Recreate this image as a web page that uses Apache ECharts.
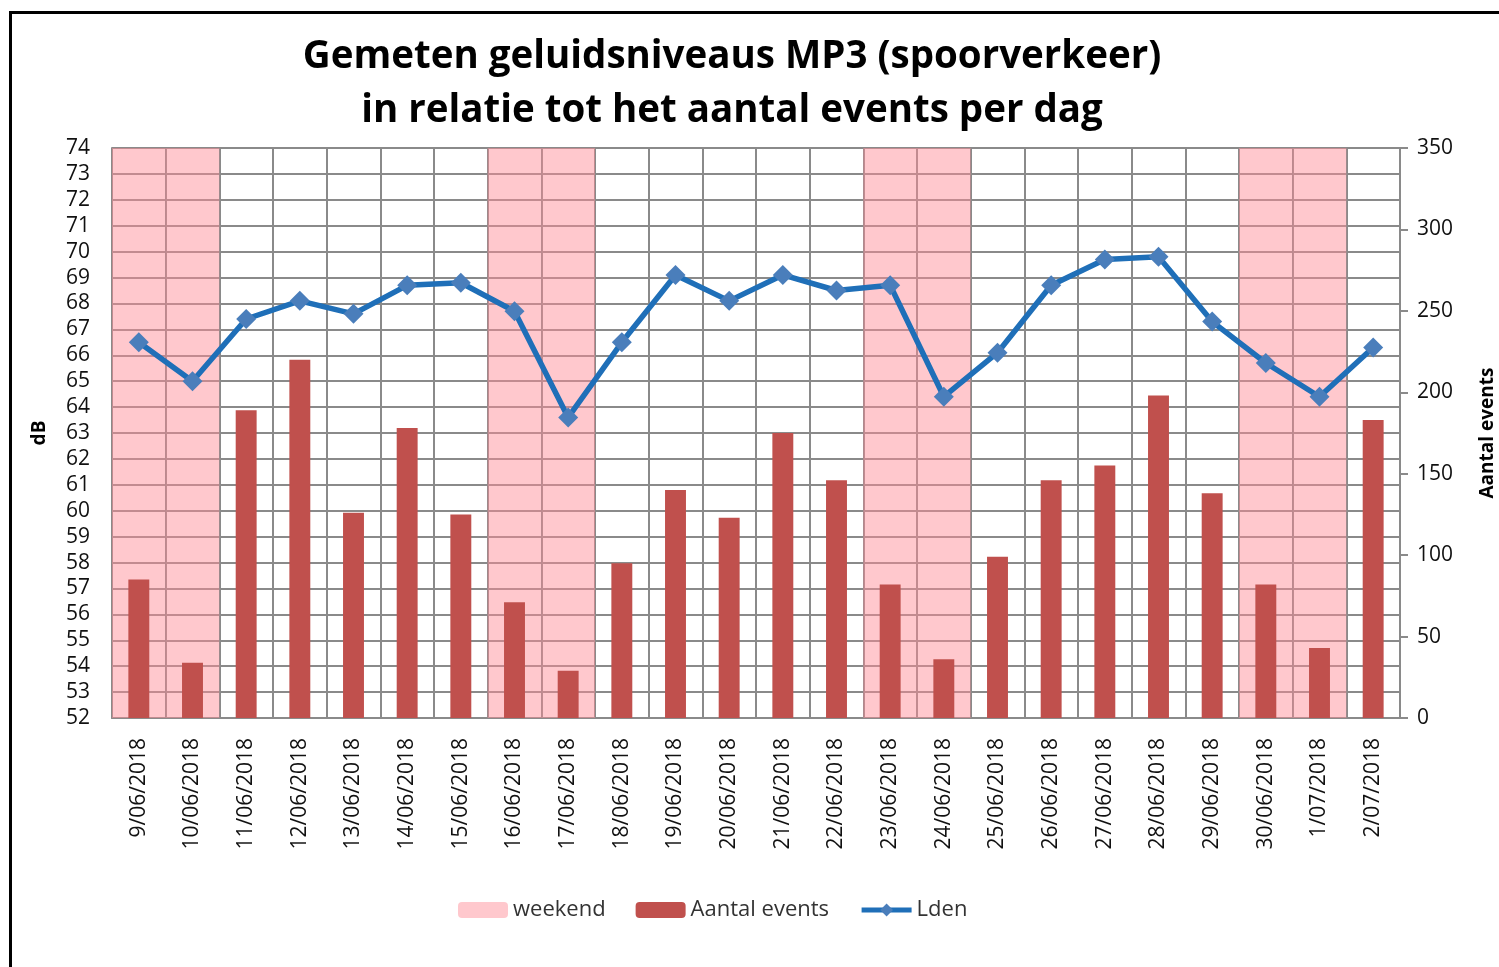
<!DOCTYPE html>
<html>
<head>
<meta charset="utf-8">
<script src="https://cdn.jsdelivr.net/npm/echarts@6/dist/echarts.min.js"></script>
<style>
  html, body { margin: 0; padding: 0; background: #fff; }
  #main { width: 1499px; height: 967px; }
  #frame { position: absolute; left: 9px; top: 11px; width: 1500px; height: 970px;
           border-top: 3px solid #000; border-left: 3px solid #000; pointer-events: none; }
</style>
</head>
<body>
<div id="main"></div>
<div id="frame"></div>
<script>
  // dagen
  var dagen = ['9/06/2018', '10/06/2018', '11/06/2018', '12/06/2018', '13/06/2018', '14/06/2018',
    '15/06/2018', '16/06/2018', '17/06/2018', '18/06/2018', '19/06/2018', '20/06/2018',
    '21/06/2018', '22/06/2018', '23/06/2018', '24/06/2018', '25/06/2018', '26/06/2018',
    '27/06/2018', '28/06/2018', '29/06/2018', '30/06/2018', '1/07/2018', '2/07/2018'];

  // 1 = weekend
  var weekend = [1, 1, 0, 0, 0, 0, 0, 1, 1, 0, 0, 0, 0, 0, 1, 1, 0, 0, 0, 0, 0, 1, 1, 0];

  // aantal events per dag
  var events = [85, 34, 189, 220, 126, 178, 125, 71, 29, 95, 140, 123,
    175, 146, 82, 36, 99, 146, 155, 198, 138, 82, 43, 183];

  // Lden in dB
  var lden = [66.5, 65.0, 67.4, 68.1, 67.6, 68.7, 68.8, 67.7, 63.6, 66.5, 69.1, 68.1,
    69.1, 68.5, 68.7, 64.4, 66.1, 68.7, 69.7, 69.8, 67.3, 65.7, 64.4, 66.3];

  var dbMin = 52, dbMax = 74;
  var evMax = 350;

  var font = '"Open Sans", "Noto Sans", sans-serif';
  var grijs = '#8a8a8a';

  var chart = echarts.init(document.getElementById('main'));

  var option = {
    textStyle: { fontFamily: font },
    title: {
      text: 'Gemeten geluidsniveaus MP3 (spoorverkeer)\nin relatie tot het aantal events per dag',
      left: 727,
      top: 25,
      textAlign: 'center',
      textStyle: { fontFamily: font, fontSize: 38.5, fontWeight: 'bold', color: '#000', lineHeight: 54 }
    },
    legend: {
      left: 453,
      top: 894,
      itemWidth: 50,
      itemHeight: 16,
      itemGap: 30,
      textStyle: { fontFamily: font, fontSize: 22, color: '#333' },
      data: ['weekend', 'Aantal events', { name: 'Lden', lineStyle: { width: 5 } }]
    },
    grid: { left: 112, right: 99, top: 148, bottom: 249, outerBoundsMode: 'none' },
    xAxis: [{
      type: 'category',
      data: dagen,
      boundaryGap: true,
      axisTick: { show: false },
      axisLine: { lineStyle: { color: grijs, width: 2 } },
      axisLabel: { rotate: 90, interval: 0, margin: 20, fontSize: 21, color: '#111', fontFamily: font },
      splitLine: { show: true, interval: 0, lineStyle: { color: grijs, width: 2 } }
    }, {
      type: 'category',
      data: dagen,
      show: false
    }],
    yAxis: [{
      type: 'value',
      name: 'dB',
      nameLocation: 'middle',
      nameRotate: 90,
      nameGap: 63,
      nameTextStyle: { fontFamily: font, fontSize: 19, fontWeight: 'bold', color: '#000' },
      min: dbMin,
      max: dbMax,
      interval: 1,
      axisLine: { show: true, lineStyle: { color: grijs, width: 2 } },
      axisTick: { show: false },
      axisLabel: { margin: 22, fontSize: 21, color: '#111', fontFamily: font },
      splitLine: { show: true, lineStyle: { color: grijs, width: 2 } }
    }, {
      type: 'value',
      name: 'Aantal events',
      nameLocation: 'middle',
      nameRotate: 90,
      nameGap: 78,
      nameTextStyle: { fontFamily: font, fontSize: 19, fontWeight: 'bold', color: '#000' },
      min: 0,
      max: evMax,
      interval: 50,
      axisLine: { show: true, lineStyle: { color: grijs, width: 2 } },
      axisTick: { show: true, length: 8, lineStyle: { color: grijs, width: 2 } },
      axisLabel: { margin: 17, fontSize: 21, color: '#111', fontFamily: font },
      splitLine: { show: false }
    }],
    series: [{
      name: 'weekend',
      type: 'bar',
      xAxisIndex: 1,
      yAxisIndex: 1,
      barWidth: '100%',
      itemStyle: { color: 'rgba(255, 140, 150, 0.48)' },
      data: weekend.map(function (w) { return w ? evMax : '-'; }),
      z: 1
    }, {
      name: 'Aantal events',
      type: 'bar',
      yAxisIndex: 1,
      barWidth: '39%',
      itemStyle: { color: '#c0504d' },
      data: events,
      z: 2
    }, {
      name: 'Lden',
      type: 'line',
      yAxisIndex: 0,
      symbol: 'diamond',
      symbolSize: 20,
      lineStyle: { color: '#1f6fb8', width: 5.5 },
      itemStyle: { color: '#4a7ebb' },
      data: lden,
      z: 3
    }]
  };

  chart.setOption(option);
</script>
</body>
</html>
